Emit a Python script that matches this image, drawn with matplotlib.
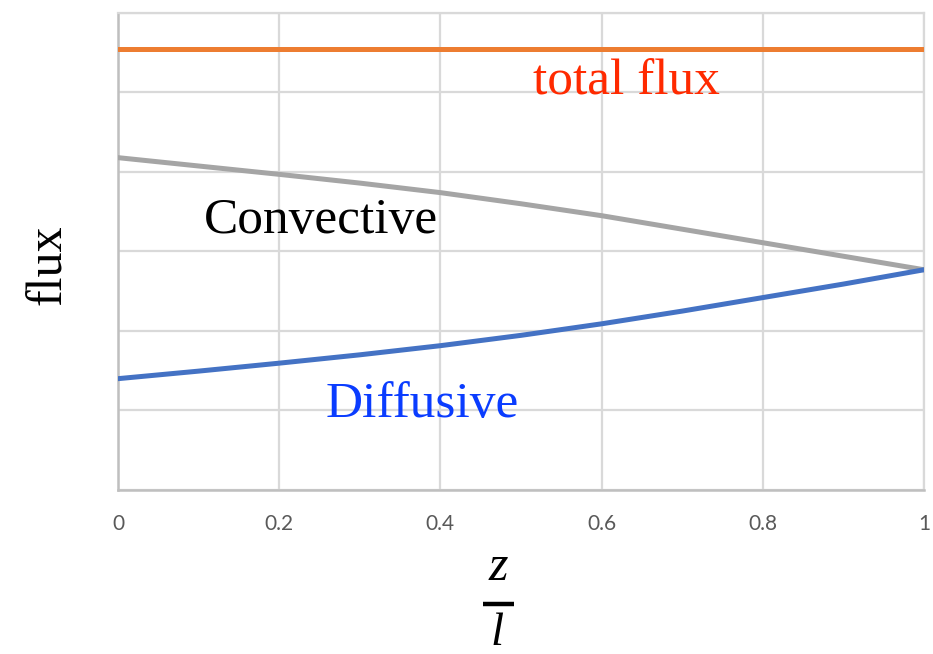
import matplotlib.pyplot as plt
from matplotlib.lines import Line2D

# non-dimensional height z/l and the flux components (arbitrary units)
z = [0.0, 0.1, 0.2, 0.3, 0.4, 0.5, 0.6, 0.7, 0.8, 0.9, 1.0]
total = [5.55] * len(z)
convective = [4.18, 4.075, 3.97, 3.86, 3.74, 3.60, 3.45, 3.28, 3.11, 2.94, 2.77]
diffusive = [1.40, 1.495, 1.595, 1.70, 1.815, 1.945, 2.09, 2.25, 2.42, 2.59, 2.77]
xticks = [0, 0.2, 0.4, 0.6, 0.8, 1]
xticklabels = ['0', '0.2', '0.4', '0.6', '0.8', '1']

serif = ['Liberation Serif', 'DejaVu Serif']
grid_col = '#D9D9D9'

fig = plt.figure(figsize=(9.33, 6.54), dpi=100)
ax = fig.add_axes([0.1265, 0.2508, 0.8639, 0.7294])

ax.plot(z, total, color='#ED7D31', lw=3.6, solid_capstyle='round', zorder=3)
ax.plot(z, convective, color='#A5A5A5', lw=3.6, solid_capstyle='round', zorder=3)
ax.plot(z, diffusive, color='#4472C4', lw=3.6, solid_capstyle='round', zorder=3)

ax.set_xlim(0, 1)
ax.set_ylim(0, 6)
ax.set_xticks(xticks)
ax.set_xticklabels(xticklabels, family=['Lato', 'DejaVu Sans'],
                   fontsize=15, color='#595959')
ax.set_yticks(range(0, 7))
ax.set_yticklabels([])
ax.tick_params(length=0, pad=17)
ax.tick_params(axis='y', pad=0)
ax.grid(True, color=grid_col, lw=1.6, zorder=0)

for side in ['top', 'right']:
    ax.spines[side].set_color(grid_col)
    ax.spines[side].set_linewidth(1.6)
for side in ['left', 'bottom']:
    ax.spines[side].set_color('#BFBFBF')
    ax.spines[side].set_linewidth(1.8)

# curve labels
ax.text(0.515, 4.97, 'total flux', family=serif, fontsize=37, color='#FF2A00',
        ha='left', va='baseline')
ax.text(0.107, 3.23, 'Convective', family=serif, fontsize=37, color='black',
        ha='left', va='baseline')
ax.text(0.257, 0.92, 'Diffusive', family=serif, fontsize=37, color='#0A3CFF',
        ha='left', va='baseline')

# y label
fig.text(0.052, 0.595, 'flux', family=serif, fontsize=36, rotation=90,
         ha='center', va='center')

# x label as a stacked fraction z / l
fig.text(0.534, 0.113, 'z', family=serif, style='italic', fontsize=36,
         ha='center', va='baseline')
fig.add_artist(Line2D([0.518, 0.551], [0.076, 0.076], transform=fig.transFigure,
                      color='black', lw=3.2, solid_capstyle='butt'))
fig.text(0.533, 0.014, 'l', family=serif, style='italic', fontsize=34,
         ha='center', va='baseline')

fig.savefig('out.png', dpi=100)
